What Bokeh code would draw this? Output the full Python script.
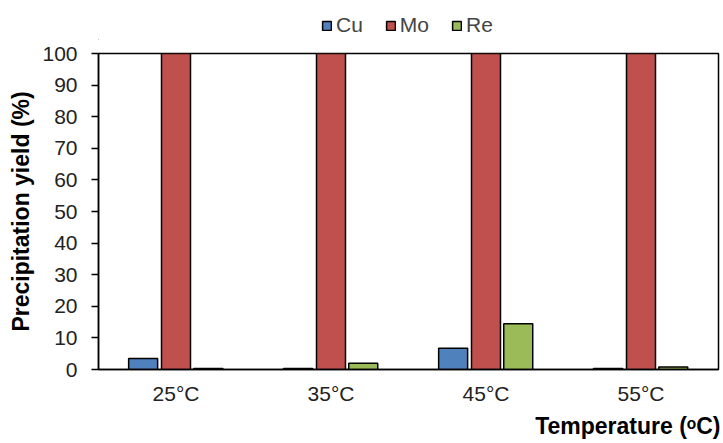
from bokeh.plotting import figure
from bokeh.layouts import column
from bokeh.models import ColumnDataSource, FactorRange, Legend, LegendItem, Title, FixedTicker
from bokeh.transform import dodge
from bokeh.embed import file_html
from bokeh.resources import INLINE

temps = ["25°C", "35°C", "45°C", "55°C"]
series = ["Cu", "Mo", "Re"]
colors = ["#4F81BD", "#C0504D", "#9BBB59"]
cu = [3.5, 0.3, 6.7, 0.3]
mo = [100, 100, 100, 100]
re_ = [0.3, 2.0, 14.5, 0.8]
y_ticks = [0, 10, 20, 30, 40, 50, 60, 70, 80, 90, 100]

font = "Liberation Sans"
src = ColumnDataSource(dict(t=temps, Cu=cu, Mo=mo, Re=re_))

# legend strip on top (its own small frame, so the legend is not clipped)
lg = figure(width=721, height=40, x_range=(0, 1), y_range=(0, 1),
            output_backend="svg", toolbar_location=None,
            x_axis_type=None, y_axis_type=None, min_border=0)
lg.outline_line_color = None
lg.xgrid.visible = False
lg.ygrid.visible = False
items = []
for s, c in zip(series, colors):
    # proxy glyph outside the visible range, used only for the legend swatch
    rr = lg.vbar(x=[-5], top=[-5], bottom=[-6], width=0.1, fill_color=c,
                 line_color="black", line_width=1.5)
    items.append(LegendItem(label=s, renderers=[rr]))
legend = Legend(items=items, orientation="horizontal", location=(223, 3),
                glyph_width=11, glyph_height=11, label_text_font=font,
                label_text_font_size="21px", label_standoff=4, spacing=22,
                padding=0, margin=0, border_line_color=None, background_fill_alpha=0)
lg.add_layout(legend, "center")

p = figure(width=721, height=402, x_range=FactorRange(factors=temps), y_range=(0, 100),
           output_backend="svg", toolbar_location=None,
           min_border_left=98, min_border_right=3, min_border_top=13, min_border_bottom=73)

bw = 0.187
offsets = [-0.212, 0.0, 0.208]
for s, c, off in zip(series, colors, offsets):
    p.vbar(x=dodge("t", off, range=p.x_range), top=s, width=bw, source=src,
           fill_color=c, line_color="black", line_width=1.5)

p.xgrid.visible = False
p.ygrid.visible = False
p.outline_line_color = "black"
p.outline_line_width = 1.5

p.yaxis.ticker = FixedTicker(ticks=y_ticks)
p.yaxis.axis_label = "Precipitation yield (%)"
p.yaxis.axis_label_text_font = font
p.yaxis.axis_label_text_font_style = "bold"
p.yaxis.axis_label_text_font_size = "23px"
p.yaxis.axis_label_text_color = "black"
p.yaxis.axis_label_standoff = 5
p.yaxis.major_label_text_font = font
p.yaxis.major_label_text_font_size = "21px"
p.yaxis.major_label_text_color = "#222222"
p.yaxis.major_tick_out = 7
p.yaxis.major_tick_in = 0
p.yaxis.minor_tick_out = 0
p.yaxis.minor_tick_in = 0
p.yaxis.axis_line_width = 1.5
p.yaxis.major_tick_line_width = 1.5
p.yaxis.major_label_standoff = 14

p.xaxis.major_label_text_font = font
p.xaxis.major_label_text_font_size = "21px"
p.xaxis.major_label_text_color = "#222222"
p.xaxis.major_tick_out = 0
p.xaxis.major_tick_in = 0
p.xaxis.axis_line_width = 1.5
p.xaxis.major_label_standoff = 12

title = Title(text="Temperature (ᵒC)", align="right", text_font=font,
              text_font_size="23px", text_font_style="bold", text_color="black",
              offset=-2, standoff=7)
p.add_layout(title, "below")

open("out.html", "w").write(file_html(column(lg, p, spacing=0), INLINE))
